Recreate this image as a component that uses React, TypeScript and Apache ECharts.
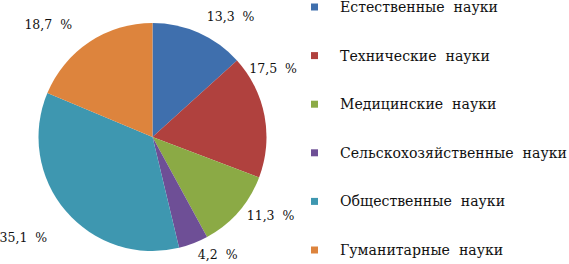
import React, { useEffect, useRef } from "react";
import * as echarts from "echarts";

const categories = [
  "Естественные науки",
  "Технические науки",
  "Медицинские науки",
  "Сельскохозяйственные науки",
  "Общественные науки",
  "Гуманитарные науки",
];
const values = [13.3, 17.5, 11.3, 4.2, 35.1, 18.7];
const colors = ["#3F6FAD", "#B0413E", "#8BAA45", "#6E4F96", "#3E97B0", "#DD843D"];
// label nudges (styling only)
const labelDx = [2, -30, -3, -1, -7, -9];
const labelDy = [-3, -45, -6, -3, 17, -5];

const FONT = "DejaVu Serif";

export default function App() {
  const ref = useRef<HTMLDivElement>(null);
  useEffect(() => {
    if (!ref.current) return;
    const chart = echarts.init(ref.current, undefined, { renderer: "svg" });
    chart.setOption({
      animation: false,
      backgroundColor: "#ffffff",
      color: colors,
      legend: {
        orient: "vertical",
        left: 311,
        top: 0,
        padding: 0,
        icon: "rect",
        itemWidth: 7,
        itemHeight: 7,
        itemGap: 34.6,
        textStyle: {
          fontFamily: FONT,
          fontSize: 14.1,
          color: "#111",
          lineHeight: 14,
          padding: [0, 0, 0, 17],
        },
        data: categories.map((c) => ({ name: c.replace(" ", "  ") })),
        selectedMode: false,
      },
      series: [
        {
          type: "pie",
          center: [152.5, 137],
          radius: 114,
          startAngle: 90,
          clockwise: true,
          avoidLabelOverlap: false,
          data: categories.map((c, i) => ({ name: c.replace(" ", "  "), value: values[i] })),
          label: {
            show: true,
            position: "outside",
            fontFamily: FONT,
            fontSize: 12.5,
            color: "#111",
            distanceToLabelLine: 0,
            formatter: (p: any) => values[p.dataIndex].toFixed(1).replace(".", ",") + "  %",
          },
          labelLine: { show: false, length: 15, length2: 0 },
          labelLayout: (p: any) => ({ dx: labelDx[p.dataIndex], dy: labelDy[p.dataIndex] }),
          emphasis: { disabled: true },
        },
      ],
    });
    return () => chart.dispose();
  }, []);
  return (
    <div
      ref={ref}
      style={{ position: "absolute", left: 0, top: 0, width: 569, height: 264 }}
    />
  );
}
